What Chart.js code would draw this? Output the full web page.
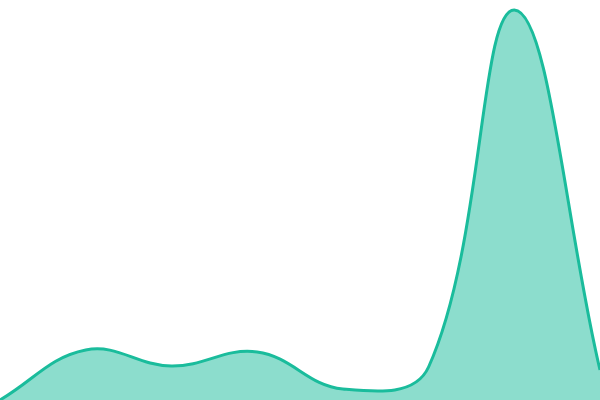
<!DOCTYPE html>
<html>
<head>
<meta charset="utf-8">
<script src="https://cdn.jsdelivr.net/npm/chart.js@4"></script>
<style>
  html, body { margin: 0; padding: 0; background: #fff; }
  #wrap { width: 600px; height: 400px; }
</style>
</head>
<body>
<div id="wrap"><canvas id="areaChart"></canvas></div>
<script>
// Chart data
const labels = ['A', 'B', 'C', 'D', 'E', 'F', 'G', 'H'];
const values = [0, 12.5, 8.5, 12, 2.75, 8.25, 97.5, 7.5];

const ctx = document.getElementById('areaChart').getContext('2d');

new Chart(ctx, {
    type: 'line',
    data: {
        labels: labels,
        datasets: [{
            data: values,
            borderColor: '#1abc9c',
            backgroundColor: 'rgba(26, 188, 156, 0.5)',
            borderWidth: 3,
            tension: 0.4,
            fill: true,
            pointRadius: 0
        }]
    },
    options: {
        responsive: true,
        maintainAspectRatio: false,
        animation: false,
        layout: { padding: 0 },
        plugins: {
            legend: { display: false },
            tooltip: { enabled: false }
        },
        scales: {
            x: { display: false },
            y: { display: false, min: 0, max: 100 }
        }
    }
});
</script>
</body>
</html>
